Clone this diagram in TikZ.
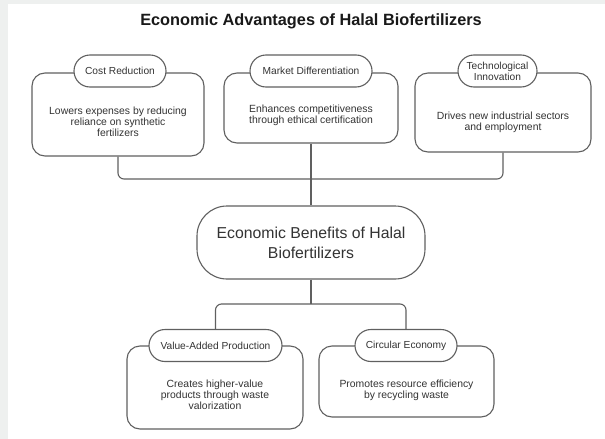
\documentclass[tikz,border=0pt]{standalone}
\usepackage{fontspec}
\setmainfont{Liberation Sans}
\definecolor{bggray}{HTML}{EEF0EF}
\definecolor{linegray}{HTML}{606060}
\definecolor{txtgray}{HTML}{333333}
\tikzset{
  card/.style={draw=linegray, line width=1.1pt, fill=white, rounded corners=13pt, inner sep=0pt},
  cardtext/.style={text=txtgray, align=center, inner sep=0pt, font=\fontsize{10.4}{11.2}\selectfont},
  pill/.style={draw=linegray, line width=1.1pt, fill=white, rounded corners=16pt, inner sep=0pt,
    minimum height=32pt, align=center, text=txtgray, font=\fontsize{10.2}{11}\selectfont},
  hub/.style={draw=linegray, line width=1.1pt, fill=white, rounded corners=30pt, inner sep=0pt,
    minimum width=228pt, minimum height=73pt, align=center, text=txtgray, font=\fontsize{15.8}{20}\selectfont},
  conn/.style={draw=linegray, line width=1.1pt, rounded corners=6pt},
}
\begin{document}
\begin{tikzpicture}[x=1pt,y=-1pt]
  \useasboundingbox (0,0) rectangle (605,439);
  \fill[bggray] (0,0) rectangle (605,439);
  \fill[white] (8,4) rectangle (605,439);

  \node[font=\bfseries\fontsize{16.3}{18}\selectfont, text=black!90] (title) at (311,21) {Economic Advantages of Halal Biofertilizers};

  % top cards
  \node[card, minimum width=172pt, minimum height=83pt] (b1) at (118,114.5) {};
  \node[card, minimum width=174pt, minimum height=70pt] (b2) at (311,108) {};
  \node[card, minimum width=176pt, minimum height=79pt] (b3) at (503,112.5) {};

  \node[pill, minimum width=92pt] (p1) at (120,71) {Cost Reduction};
  \node[pill, minimum width=122pt] (p2) at (311,71) {Market Differentiation};
  \node[pill, minimum width=79pt] (p3) at (497.5,71) {Technological\\Innovation};

  \node[cardtext] (t1) at (118,122) {Lowers expenses by reducing\\reliance on synthetic\\fertilizers};
  \node[cardtext] (t2) at (311,115.5) {Enhances competitiveness\\through ethical certification};
  \node[cardtext] (t3) at (503,122) {Drives new industrial sectors\\and employment};

  % hub
  \node[hub] (c) at (311,242.5) {Economic Benefits of Halal\\Biofertilizers};

  % bottom cards
  \node[card, minimum width=176pt, minimum height=83pt] (b4) at (215,387.5) {};
  \node[card, minimum width=175pt, minimum height=71pt] (b5) at (406.5,381.5) {};

  \node[pill, minimum width=133pt] (p4) at (215.5,345.5) {Value-Added Production};
  \node[pill, minimum width=102pt] (p5) at (406,345.5) {Circular Economy};

  \node[cardtext] (t4) at (215,395) {Creates higher-value\\products through waste\\valorization};
  \node[cardtext] (t5) at (406.5,390) {Promotes resource efficiency\\by recycling waste};

  % connectors
  \coordinate (jt) at (311,179);
  \coordinate (jb) at (311,304);
  \draw[conn] (b1.south) |- (jt) -| (b3.south);
  \draw[conn] (b2.south) -- (c.north);
  \draw[conn] (c.south) -- (jb);
  \draw[conn] (p4.north) |- (jb) -| (p5.north);
\end{tikzpicture}
\end{document}
